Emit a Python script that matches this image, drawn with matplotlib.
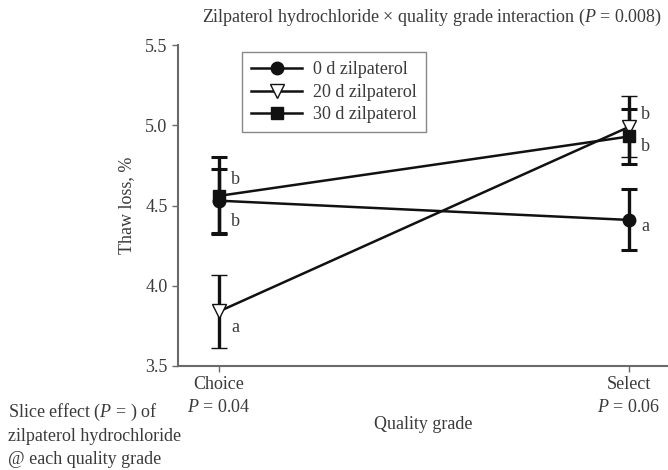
import matplotlib
matplotlib.use("Agg")
import matplotlib.pyplot as plt
from matplotlib.lines import Line2D

plt.rcParams['font.family'] = ['Liberation Serif', 'DejaVu Serif']
plt.rcParams['mathtext.fontset'] = 'custom'
plt.rcParams['mathtext.rm'] = 'Liberation Serif'
plt.rcParams['mathtext.it'] = 'Liberation Serif:italic'

grades = ["Choice", "Select"]
grade_p = ["0.04", "0.06"]
series_names = ["0 d zilpaterol", "20 d zilpaterol", "30 d zilpaterol"]
means_0d = [4.53, 4.41]
err_0d = [0.20, 0.19]
means_20d = [3.84, 4.99]
err_20d = [0.23, 0.19]
means_30d = [4.56, 4.93]
err_30d = [0.24, 0.17]
letters_0d = ["b", "a"]
letters_20d = ["a", "b"]
letters_30d = ["b", "b"]

txt = "#3a3a3a"
spine_c = "#6a6a6a"
FS = 13

fig = plt.figure(figsize=(6.68, 4.70), dpi=100)
ax = fig.add_axes([178/668, 1-366/470, 1-178/668, (366-45)/470])

x = [0, 1]
styles = [
    dict(marker="o", mfc="#111111", mec="#111111", ms=9),
    dict(marker="v", mfc="white", mec="#111111", ms=10, mew=1.0),
    dict(marker="s", mfc="#111111", mec="#111111", ms=8),
]
handles = []
for means, errs, st, name in zip([means_0d, means_20d, means_30d],
                                 [err_0d, err_20d, err_30d], styles, series_names):
    ax.errorbar(x, means, yerr=errs, color="#111111", lw=1.8, elinewidth=2.4,
                capsize=6, capthick=2.2, **st)
    handles.append(Line2D([], [], color="#111111", lw=1.8, label=name, **st))

# letters
ax.text(0 + 0.03, 4.66, letters_30d[0], color=txt, fontsize=FS, va="center")
ax.text(0 + 0.03, 4.40, letters_0d[0], color=txt, fontsize=FS, va="center")
ax.text(0 + 0.03, 3.74, letters_20d[0], color=txt, fontsize=FS, va="center")
ax.text(1 + 0.03, 5.07, letters_20d[1], color=txt, fontsize=FS, va="center")
ax.text(1 + 0.03, 4.87, letters_30d[1], color=txt, fontsize=FS, va="center")
ax.text(1 + 0.03, 4.37, letters_0d[1], color=txt, fontsize=FS, va="center")

ax.set_xlim(-0.1, 1.095)
ax.set_ylim(3.5, 5.5)
ax.set_yticks([3.5, 4.0, 4.5, 5.0, 5.5])
ax.set_yticklabels(["3.5", "4.0", "4.5", "5.0", "5.5"])
ax.set_xticks(x)
ax.set_xticklabels([f"{g}\n$P$ = {p}" for g, p in zip(grades, grade_p)])
for lab in ax.get_xticklabels():
    lab.set_linespacing(1.45)
ax.tick_params(axis="both", colors=spine_c, labelcolor=txt, labelsize=FS, length=4, width=1)
ax.tick_params(axis="x", pad=3)
for s in ["top", "right"]:
    ax.spines[s].set_visible(False)
for s in ["left", "bottom"]:
    ax.spines[s].set_color(spine_c)
    ax.spines[s].set_linewidth(1.5)

ax.set_ylabel("Thaw loss, %", color=txt, fontsize=FS, labelpad=7)
ax.set_xlabel("Quality grade", color=txt, fontsize=FS, labelpad=0)

leg = ax.legend(handles=handles, loc="upper left", bbox_to_anchor=(0.113, 1.005), fontsize=FS,
                frameon=True, fancybox=False, handlelength=2.8, borderpad=0.5,
                labelspacing=0.3, handletextpad=0.6)
leg.get_frame().set_edgecolor(spine_c)
leg.get_frame().set_linewidth(1.0)
for t in leg.get_texts():
    t.set_color(txt)

fig.text(432/668, 1-17/470, "Zilpaterol hydrochloride \u00d7 quality grade interaction ($P$ = 0.008)",
         ha="center", va="center", color=txt, fontsize=13)
fig.text(8/668, 1-402/470, "Slice effect ($P$ = ) of\nzilpaterol hydrochloride\n@ each quality grade",
         ha="left", va="top", color=txt, fontsize=FS, linespacing=1.4)

fig.savefig("out.png", dpi=100)
